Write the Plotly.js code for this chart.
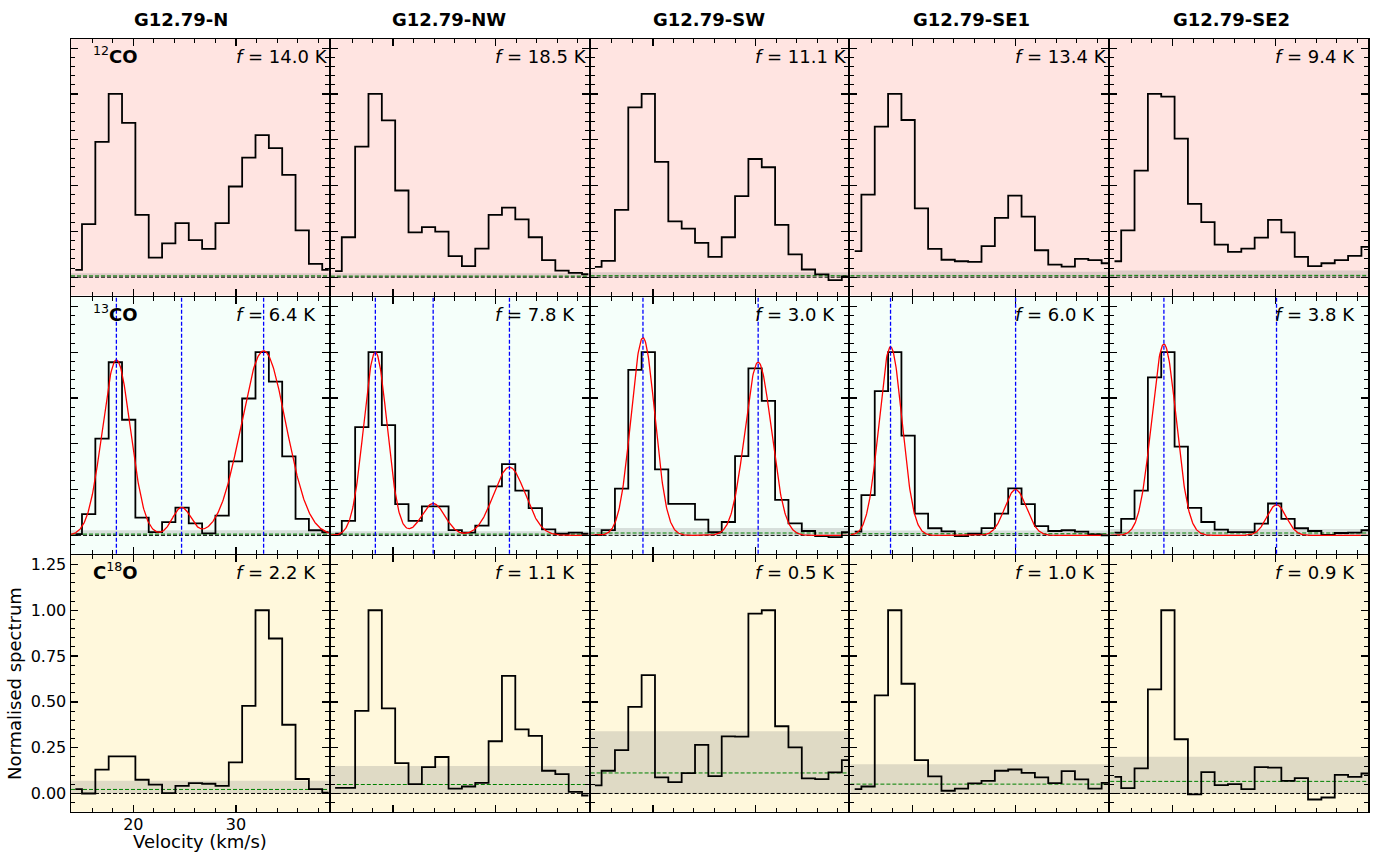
<!DOCTYPE html>
<html><head><meta charset="utf-8">
<script src="https://cdn.plot.ly/plotly-3.0.1.min.js"></script>
<style>body{margin:0;padding:0;background:#fff}</style>
</head><body>
<div id="chart" style="width:1384px;height:853px"></div>
<script>
// ---------- data ----------
const regions = ['G12.79-N', 'G12.79-NW', 'G12.79-SW', 'G12.79-SE1', 'G12.79-SE2'];
const lineLabels = ['<sup>12</sup><b>CO</b>', '<sup>13</sup><b>CO</b>', '<b>C</b><sup>18</sup><b>O</b>'];
const rowColours = ['mistyrose', 'mintcream', 'cornsilk'];

const velocity = [14.35, 15.65, 16.95, 18.25, 19.55, 20.85, 22.15, 23.45, 24.75, 26.05,
                  27.35, 28.65, 29.95, 31.25, 32.55, 33.85, 35.15, 36.45, 37.75, 39.05];

// 12CO normalised spectra
const co12N   = [0.040, 0.290, 0.738, 1.000, 0.842, 0.340, 0.107, 0.185, 0.295, 0.202, 0.155, 0.295, 0.495, 0.653, 0.775, 0.704, 0.558, 0.255, 0.073, 0.040];
const co12NW  = [0.033, 0.218, 0.713, 1.000, 0.856, 0.473, 0.245, 0.273, 0.249, 0.115, 0.060, 0.156, 0.340, 0.380, 0.316, 0.218, 0.093, 0.036, 0.024, 0.016];
const co12SW  = [0.056, 0.089, 0.367, 0.927, 1.000, 0.629, 0.305, 0.265, 0.187, 0.111, 0.218, 0.442, 0.645, 0.600, 0.285, 0.124, 0.042, 0.015, -0.016, 0.004];
const co12SE1 = [0.142, 0.451, 0.822, 1.000, 0.858, 0.375, 0.155, 0.095, 0.087, 0.084, 0.169, 0.324, 0.445, 0.331, 0.147, 0.069, 0.058, 0.100, 0.093, 0.076];
const co12SE2 = [0.087, 0.255, 0.582, 1.000, 0.985, 0.756, 0.400, 0.300, 0.178, 0.138, 0.156, 0.216, 0.313, 0.245, 0.111, 0.060, 0.076, 0.093, 0.116, 0.165];

// 13CO normalised spectra
const co13N   = [0.007, 0.116, 0.528, 0.945, 0.631, 0.097, 0.018, 0.072, 0.152, 0.066, 0.011, 0.108, 0.404, 0.747, 1.000, 0.839, 0.431, 0.090, 0.028, 0.017];
const co13NW  = [0.009, 0.079, 0.591, 1.000, 0.602, 0.171, 0.079, 0.158, 0.158, 0.029, 0.015, 0.053, 0.268, 0.389, 0.244, 0.149, 0.033, 0.009, 0.015, 0.009];
const co13SW  = [0.002, 0.029, 0.255, 0.903, 1.000, 0.360, 0.172, 0.172, 0.086, 0.017, 0.073, 0.433, 0.912, 0.734, 0.194, 0.066, 0.024, -0.004, -0.009, 0.017];
const co13SE1 = [0.020, 0.220, 0.787, 1.000, 0.545, 0.119, 0.039, 0.022, -0.004, 0.009, 0.040, 0.119, 0.257, 0.171, 0.050, 0.024, 0.028, 0.020, 0.006, 0.000];
const co13SE2 = [0.015, 0.090, 0.244, 0.862, 1.000, 0.484, 0.150, 0.073, 0.031, 0.018, 0.018, 0.064, 0.174, 0.090, 0.039, 0.024, 0.002, 0.013, 0.015, 0.028];

// C18O normalised spectra
const c18oN   = [0.024, 0.000, 0.130, 0.203, 0.203, 0.075, 0.048, 0.002, 0.042, 0.057, 0.053, 0.042, 0.170, 0.478, 1.000, 0.846, 0.375, 0.079, 0.024, 0.004];
const c18oNW  = [0.031, 0.031, 0.451, 1.000, 0.465, 0.166, 0.051, 0.144, 0.199, 0.026, 0.038, 0.058, 0.285, 0.642, 0.350, 0.314, 0.124, 0.106, 0.009, -0.011];
const c18oSW  = [0.044, 0.124, 0.237, 0.473, 0.646, 0.088, 0.062, 0.111, 0.265, 0.095, 0.312, 0.310, 0.982, 1.000, 0.367, 0.252, 0.082, 0.078, 0.115, 0.182];
const c18oSE1 = [0.024, 0.038, 0.536, 1.000, 0.599, 0.182, 0.093, 0.015, 0.027, 0.055, 0.069, 0.124, 0.131, 0.113, 0.088, 0.057, 0.122, 0.077, 0.026, 0.058];
const c18oSE2 = [0.091, 0.029, 0.137, 0.568, 1.000, 0.296, -0.005, 0.117, 0.046, 0.051, 0.024, 0.144, 0.141, 0.069, 0.084, -0.033, -0.022, 0.102, 0.091, 0.109];

// peak brightness used for normalisation (K)
const fCO12 = [14.0, 18.5, 11.1, 13.4, 9.4];
const fCO13 = [6.4, 7.8, 3.0, 6.0, 3.8];
const fC18O = [2.2, 1.1, 0.5, 1.0, 0.9];

// noise level (green dashed) and shaded noise band top
const rmsCO12  = [0.007, 0.006, 0.008, 0.008, 0.010];
const bandCO12 = [0.022, 0.022, 0.027, 0.030, 0.036];
const rmsCO13  = [0.007, 0.007, 0.013, 0.009, 0.013];
const bandCO13 = [0.028, 0.022, 0.040, 0.026, 0.035];
const rmsC18O  = [0.022, 0.049, 0.112, 0.051, 0.066];
const bandC18O = [0.070, 0.150, 0.340, 0.159, 0.200];

// 13CO Gaussian fit components: centres (km/s), amplitudes, sigmas (km/s)
const fitCentresN   = [18.35, 24.70, 32.69];
const fitAmpsN      = [0.958, 0.152, 1.007];
const fitSigmasN    = [1.37, 0.90, 2.17];
const fitCentresNW  = [18.27, 23.90, 31.33];
const fitAmpsNW     = [1.000, 0.174, 0.372];
const fitSigmasNW   = [1.13, 1.15, 1.54];
const fitCentresSW  = [19.03, 30.25];
const fitAmpsSW     = [1.079, 0.945];
const fitSigmasSW   = [1.16, 1.29];
const fitCentresSE1 = [17.84, 30.02];
const fitAmpsSE1    = [1.029, 0.250];
const fitSigmasSE1  = [1.12, 1.05];
const fitCentresSE2 = [19.16, 30.13];
const fitAmpsSE2    = [1.044, 0.167];
const fitSigmasSE2  = [1.20, 0.94];

// ---------- assembly ----------
const spectra = [
  [co12N, co12NW, co12SW, co12SE1, co12SE2],
  [co13N, co13NW, co13SW, co13SE1, co13SE2],
  [c18oN, c18oNW, c18oSW, c18oSE1, c18oSE2]
];
const peaks = [fCO12, fCO13, fC18O];
const rmsRows = [rmsCO12, rmsCO13, rmsC18O];
const bandRows = [bandCO12, bandCO13, bandC18O];
const fits = [
  [fitCentresN, fitAmpsN, fitSigmasN],
  [fitCentresNW, fitAmpsNW, fitSigmasNW],
  [fitCentresSW, fitAmpsSW, fitSigmasSW],
  [fitCentresSE1, fitAmpsSE1, fitSigmasSE1],
  [fitCentresSE2, fitAmpsSE2, fitSigmasSE2]
];

const W = 1384, H = 853;
const colLeft = [71, 330.8, 590.6, 850.4, 1110.2];
const colWidth = 257.8;
const titleCentre = [181, 449, 709, 972, 1231];
const rowTop = [39, 297.2, 555.3];
const rowHeight = 256.5;
const xRange = [13.93, 39.04];
const yRange = [-0.1, 1.3];
const FONT = 'DejaVu Sans, sans-serif';

const traces = [];
const shapes = [];
const annotations = [];
const layout = {
  width: W, height: H,
  margin: {l: 0, r: 0, t: 0, b: 0},
  paper_bgcolor: 'white',
  plot_bgcolor: 'rgba(0,0,0,0)',
  showlegend: false,
  font: {family: FONT, color: 'black', size: 16}
};

for (let r = 0; r < 3; r++) {
  for (let c = 0; c < 5; c++) {
    const i = r * 5 + c;
    const id = i === 0 ? '' : String(i + 1);
    const xa = 'x' + id, ya = 'y' + id;
    const isLabelled = (r === 2 && c === 0);
    const x0 = colLeft[c] / W, x1 = (colLeft[c] + colWidth) / W;
    const y1 = 1 - rowTop[r] / H, y0 = 1 - (rowTop[r] + rowHeight) / H;

    const common = {
      showgrid: false, zeroline: false,
      showline: true, linecolor: 'black', linewidth: 1.5, mirror: 'ticks',
      ticks: 'inside', ticklen: 7, tickwidth: 1.3, tickcolor: 'black',
      fixedrange: true
    };
    const xax = Object.assign({}, common, {
      domain: [x0, x1], range: xRange, anchor: ya,
      tick0: 0, dtick: 10,
      minor: {ticks: 'inside', ticklen: 4, tickwidth: 1, tickcolor: 'black', dtick: 2, tick0: 0},
      showticklabels: isLabelled,
      tickfont: {size: 16, family: FONT}
    });
    const yax = Object.assign({}, common, {
      domain: [y0, y1], range: yRange, anchor: xa,
      tick0: 0, dtick: 0.25, tickformat: '.2f',
      minor: {ticks: 'inside', ticklen: 4, tickwidth: 1, tickcolor: 'black', dtick: 0.05, tick0: 0},
      showticklabels: isLabelled,
      tickfont: {size: 16, family: FONT}
    });
    if (isLabelled) {
      xax.ticklabelstandoff = -3;
      yax.title = {text: 'Normalised spectrum', font: {size: 18, family: FONT}, standoff: 4};
    }
    layout['xaxis' + id] = xax;
    layout['yaxis' + id] = yax;

    // panel background
    shapes.push({type: 'rect', xref: xa + ' domain', yref: ya + ' domain', x0: 0, x1: 1, y0: 0, y1: 1,
      fillcolor: rowColours[r], line: {width: 0}, layer: 'below'});
    // noise band
    shapes.push({type: 'rect', xref: xa + ' domain', yref: ya, x0: 0, x1: 1, y0: 0, y1: bandRows[r][c],
      fillcolor: 'rgba(128,128,128,0.25)', line: {width: 0}, layer: 'below'});
    // zero line and noise line
    shapes.push({type: 'line', xref: xa + ' domain', yref: ya, x0: 0, x1: 1, y0: 0, y1: 0,
      line: {color: 'black', width: 1, dash: '4px,2px'}, layer: 'below'});
    shapes.push({type: 'line', xref: xa + ' domain', yref: ya, x0: 0, x1: 1, y0: rmsRows[r][c], y1: rmsRows[r][c],
      line: {color: 'green', width: 1, dash: '4px,2px'}, layer: 'below'});

    // spectrum
    traces.push({x: velocity, y: spectra[r][c], xaxis: xa, yaxis: ya, type: 'scatter', mode: 'lines',
      line: {shape: 'hvh', color: 'black', width: 1.8}, hoverinfo: 'skip'});

    if (r === 1) {
      const [cen, amp, sig] = fits[c];
      const fx = [], fy = [];
      for (let k = 0; k <= 520; k++) {
        const v = xRange[0] + (xRange[1] - xRange[0]) * k / 520;
        let s = 0;
        for (let j = 0; j < cen.length; j++) s += amp[j] * Math.exp(-Math.pow(v - cen[j], 2) / (2 * sig[j] * sig[j]));
        fx.push(v); fy.push(s);
      }
      traces.push({x: fx, y: fy, xaxis: xa, yaxis: ya, type: 'scatter', mode: 'lines',
        line: {color: 'red', width: 1.3}, hoverinfo: 'skip'});
      cen.forEach(cv => shapes.push({type: 'line', xref: xa, yref: ya + ' domain', x0: cv, x1: cv, y0: 0, y1: 1,
        line: {color: '#0000ff', width: 1.3, dash: '4px,2px'}, layer: 'above'}));
    }

    // f annotation
    annotations.push({xref: 'paper', yref: 'paper', x: (colLeft[c] + 162.5) / W, y: 1 - (rowTop[r] + 17.5) / H,
      xanchor: 'left', yanchor: 'middle', showarrow: false,
      text: '<i>f</i> = ' + peaks[r][c].toFixed(1) + ' K', font: {size: 18, family: FONT, color: 'black'}});
    if (c === 0) {
      annotations.push({xref: 'paper', yref: 'paper', x: (colLeft[0] + 20) / W, y: 1 - (rowTop[r] + 16) / H,
        xanchor: 'left', yanchor: 'middle', showarrow: false,
        text: lineLabels[r], font: {size: 18, family: FONT, color: 'black'}});
    }
    if (r === 0) {
      annotations.push({xref: 'paper', yref: 'paper', x: titleCentre[c] / W, y: 1 - 19 / H,
        xanchor: 'center', yanchor: 'middle', showarrow: false,
        text: '<b>' + regions[c] + '</b>', font: {size: 18, family: FONT, color: 'black'}});
    }
  }
}
// x-axis title of the labelled (bottom-left) panel
annotations.push({xref: 'paper', yref: 'paper', x: (colLeft[0] + colWidth / 2) / W, y: 1 - 841 / H,
  xanchor: 'center', yanchor: 'middle', showarrow: false,
  text: 'Velocity (km/s)', font: {size: 18, family: FONT, color: 'black'}});

layout.shapes = shapes;
layout.annotations = annotations;

Plotly.newPlot('chart', traces, layout, {displayModeBar: false, staticPlot: true});
</script>
</body></html>
